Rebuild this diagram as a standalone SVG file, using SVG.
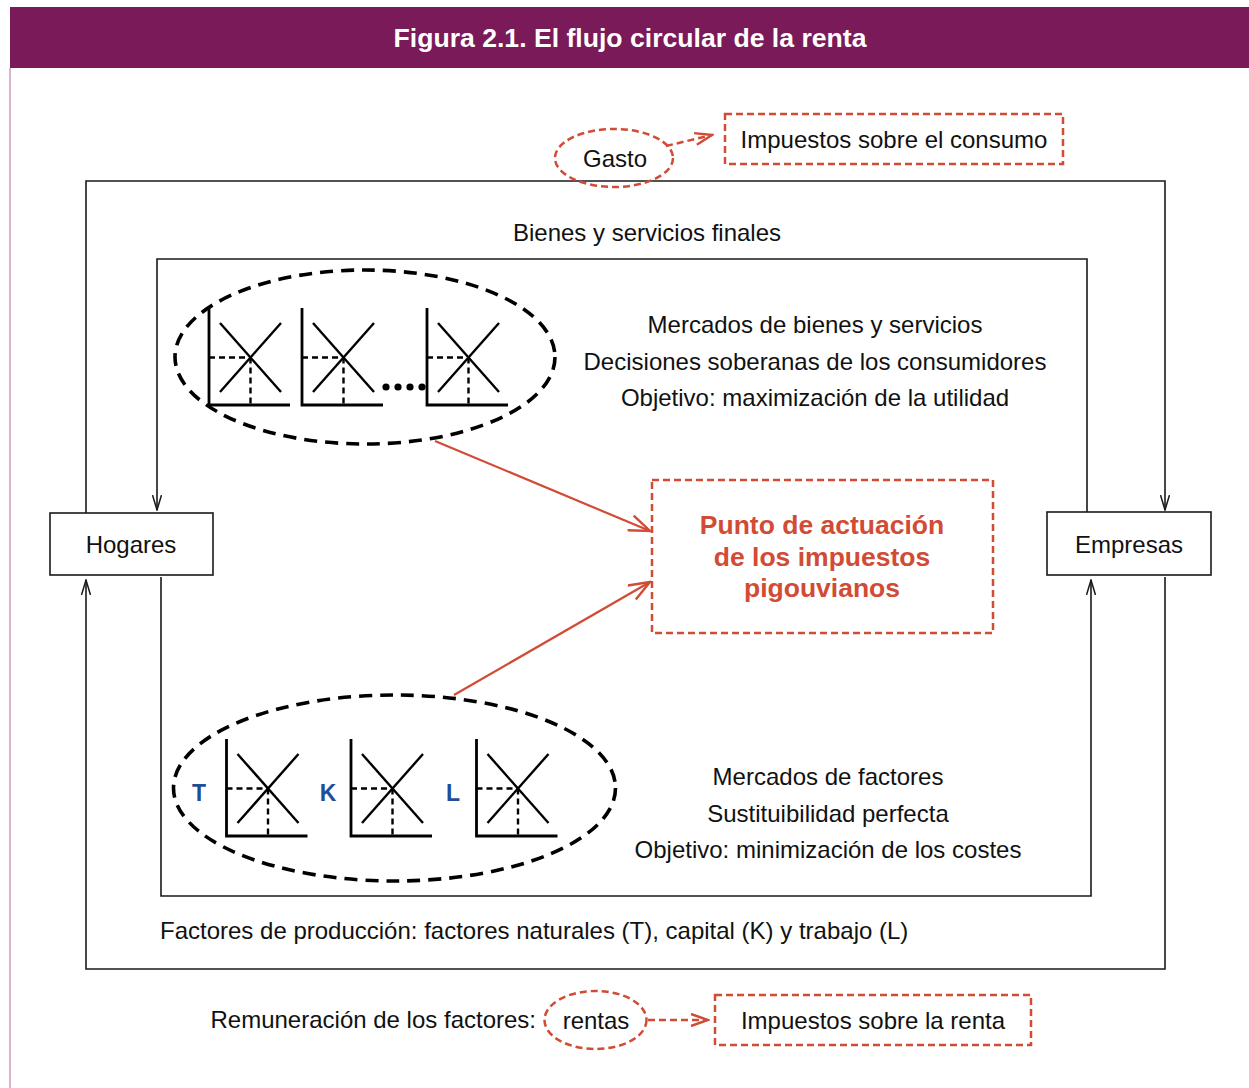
<svg xmlns="http://www.w3.org/2000/svg" width="1249" height="1088" viewBox="0 0 1249 1088">
<style>
text{font-family:"Liberation Sans",Arial,sans-serif;fill:#111;}
.t{font-size:24px;}
.c{text-anchor:middle;}
.red{fill:#D14B35;font-weight:bold;font-size:26.5px;text-anchor:middle;}
.blue{fill:#1F4E96;font-weight:bold;font-size:23px;text-anchor:middle;}
.box{fill:#fff;stroke:#1a1a1a;stroke-width:1.6;}
.flow{fill:none;stroke:#1a1a1a;stroke-width:1.6;}
.rdash{fill:none;stroke:#D14B35;stroke-width:2.5;stroke-dasharray:7 4;}
.rline{fill:none;stroke:#D14B35;stroke-width:2.2;}
.bell{fill:none;stroke:#000;stroke-width:3.6;stroke-dasharray:13 8;}
.ax{fill:none;stroke:#000;stroke-width:2.8;}
.cr{fill:none;stroke:#000;stroke-width:2.4;}
.dl{fill:none;stroke:#000;stroke-width:2.4;stroke-dasharray:6 4;}
</style>
<defs>
<marker id="ah" viewBox="0 0 16 10" markerWidth="16" markerHeight="10" refX="15" refY="5" orient="auto" markerUnits="userSpaceOnUse">
<path d="M0,0.5 L15,5 L0,9.5" fill="none" stroke="#1a1a1a" stroke-width="1.5"/>
</marker>
<marker id="rh" viewBox="0 0 24 18" markerWidth="24" markerHeight="18" refX="22" refY="9" orient="auto" markerUnits="userSpaceOnUse">
<path d="M1,1 L22,9 L1,17" fill="none" stroke="#D14B35" stroke-width="2.4"/>
</marker>
<marker id="rd" viewBox="0 0 20 14" markerWidth="20" markerHeight="14" refX="18" refY="7" orient="auto" markerUnits="userSpaceOnUse">
<path d="M1,1 L18,7 L1,13" fill="none" stroke="#D14B35" stroke-width="2.5"/>
</marker>
<g id="chart">
<polyline class="ax" points="0,0 0,97 81,97"/>
<line class="cr" x1="11" y1="15" x2="72" y2="84"/>
<line class="cr" x1="11" y1="84" x2="72" y2="15"/>
<line class="dl" x1="0" y1="49.5" x2="41.5" y2="49.5"/>
<line class="dl" x1="41.5" y1="49.5" x2="41.5" y2="97"/>
</g>
</defs>
<rect x="0" y="0" width="1249" height="1088" fill="#fff"/>
<g id="header">
<rect x="10" y="7" width="1239" height="61" fill="#7B1A58"/>
<line x1="10" y1="68" x2="10" y2="1088" stroke="#CF9ABD" stroke-width="1.5"/>
<text x="630" y="47" font-size="26.6" font-weight="bold" text-anchor="middle" style="fill:#fff">Figura 2.1. El flujo circular de la renta</text>
</g>
<g id="connectors">
<path class="flow" d="M86,513 V181 H1165 V510" marker-end="url(#ah)"/>
<path class="flow" d="M1087,512 V259 H157 V510" marker-end="url(#ah)"/>
<path class="flow" d="M161,577 V896 H1091 V580" marker-end="url(#ah)"/>
<path class="flow" d="M1165,577 V969 H86 V580" marker-end="url(#ah)"/>
<line class="rline" x1="435" y1="441" x2="650" y2="531" marker-end="url(#rh)"/>
<line class="rline" x1="454" y1="695" x2="650" y2="582" marker-end="url(#rh)"/>
<line class="rdash" x1="666" y1="146" x2="712" y2="135" marker-end="url(#rd)"/>
<line class="rdash" x1="648" y1="1020" x2="708" y2="1020" marker-end="url(#rd)"/>
</g>
<g id="labels">
<text class="t c" x="647" y="241">Bienes y servicios finales</text>
<text class="t" x="160" y="939">Factores de producción: factores naturales (T), capital (K) y trabajo (L)</text>
<text class="t" x="536" y="1028" text-anchor="end">Remuneración de los factores:</text>
</g>
<g id="hogares">
<rect class="box" x="50" y="513" width="163" height="62"/>
<text class="t c" x="131" y="553">Hogares</text>
</g>
<g id="empresas">
<rect class="box" x="1047" y="512" width="164" height="63"/>
<text class="t c" x="1129" y="553">Empresas</text>
</g>
<g id="gasto">
<ellipse class="rdash" cx="614" cy="158" rx="59" ry="29"/>
<text class="t c" x="615" y="167">Gasto</text>
</g>
<g id="impuestos-consumo">
<rect class="rdash" x="725" y="114" width="338" height="50"/>
<text class="t c" x="894" y="148">Impuestos sobre el consumo</text>
</g>
<g id="rentas">
<ellipse class="rdash" cx="595.5" cy="1020" rx="51" ry="29"/>
<text class="t c" x="596" y="1029">rentas</text>
</g>
<g id="impuestos-renta">
<rect class="rdash" x="715" y="995" width="316" height="50"/>
<text class="t c" x="873" y="1029">Impuestos sobre la renta</text>
</g>
<g id="pigou">
<rect class="rdash" x="652" y="480" width="341" height="153"/>
<text class="red" x="822" y="534">Punto de actuación</text>
<text class="red" x="822" y="566">de los impuestos</text>
<text class="red" x="822" y="597">pigouvianos</text>
</g>
<g id="mercado-bienes">
<ellipse class="bell" cx="365" cy="357" rx="190" ry="87"/>
<use href="#chart" x="209" y="308"/>
<use href="#chart" x="302" y="308"/>
<use href="#chart" x="427" y="308"/>
<circle cx="386" cy="387" r="3.6"/>
<circle cx="398" cy="387" r="3.6"/>
<circle cx="410" cy="387" r="3.6"/>
<circle cx="422" cy="387" r="3.6"/>
<text class="t c" x="815" y="333">Mercados de bienes y servicios</text>
<text class="t c" x="815" y="370">Decisiones soberanas de los consumidores</text>
<text class="t c" x="815" y="406">Objetivo: maximización de la utilidad</text>
</g>
<g id="mercado-factores">
<ellipse class="bell" cx="394.5" cy="788" rx="221" ry="93"/>
<use href="#chart" x="226.5" y="739"/>
<use href="#chart" x="351" y="739"/>
<use href="#chart" x="476.5" y="739"/>
<text class="blue" x="199" y="801">T</text>
<text class="blue" x="328" y="801">K</text>
<text class="blue" x="453" y="801">L</text>
<text class="t c" x="828" y="785">Mercados de factores</text>
<text class="t c" x="828" y="822">Sustituibilidad perfecta</text>
<text class="t c" x="828" y="858">Objetivo: minimización de los costes</text>
</g>
</svg>
